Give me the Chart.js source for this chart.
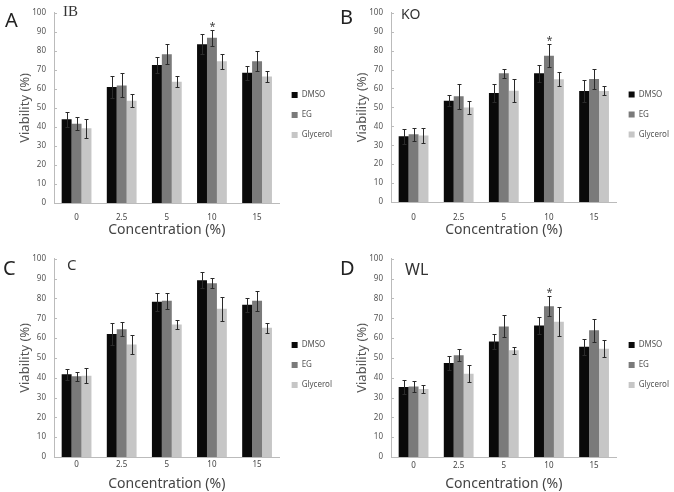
<!DOCTYPE html>
<html>
<head>
<meta charset="utf-8">
<script src="https://cdn.jsdelivr.net/npm/chart.js@4.4.1/dist/chart.umd.min.js"></script>
<style>
  body { margin: 0; background: #fff; overflow: hidden; }
  #wrap { position: relative; width: 674px; height: 492px; }
  .panel { position: absolute; width: 337px; height: 246px; }
  .panel canvas { position: absolute; left: 0; top: 0; }
  .letter { position: absolute; font-family: "Noto Sans", sans-serif; font-size: 20px; color: #222; line-height: 1; }
  .sub { position: absolute; font-family: "Noto Sans", sans-serif; font-size: 15px; color: #333; line-height: 1; }
</style>
</head>
<body>
<div id="wrap"></div>
<script>
// data
const categories = ['0', '2.5', '5', '10', '15'];
const seriesNames = ['DMSO', 'EG', 'Glycerol'];
const seriesColors = ['#0a0a0a', '#7a7a7a', '#c6c6c6'];

const ibDmso = [44, 61, 72.5, 83.5, 68.5];
const ibDmsoErr = [4, 5.8, 4, 5.3, 3.6];
const ibEg = [41.7, 61.8, 78.2, 86.9, 74.5];
const ibEgErr = [3.5, 6.3, 5.3, 4.1, 5.2];
const ibGly = [39.3, 53.8, 63.8, 74.5, 66.5];
const ibGlyErr = [5, 3.5, 2.9, 4, 3.1];
const ibStars = [3];

const koDmso = [34.8, 53.5, 57.6, 68, 58.7];
const koDmsoErr = [4, 2.8, 4.7, 4.5, 6];
const koEg = [35.8, 55.9, 68, 77.3, 65];
const koEgErr = [3.3, 6.7, 2.4, 6.1, 5.2];
const koGly = [35.1, 50, 58.8, 64.9, 58.7];
const koGlyErr = [3.8, 3.5, 6.1, 3.6, 2.4];
const koStars = [3];

const cDmso = [41.7, 62, 78.3, 89.2, 76.8];
const cDmsoErr = [2.8, 5.6, 4.4, 3.9, 3.5];
const cEg = [40.7, 64.5, 78.8, 87.7, 78.8];
const cEgErr = [2.2, 3.5, 4, 2.4, 5.2];
const cGly = [41, 56.8, 66.9, 74.8, 65.2];
const cGlyErr = [3.7, 4.9, 2.3, 6, 2.5];
const cStars = [];

const wlDmso = [35.3, 47.4, 58.3, 66.4, 55.6];
const wlDmsoErr = [3.4, 3.4, 3.9, 4.2, 4.1];
const wlEg = [35.6, 51.4, 65.9, 76, 63.9];
const wlEgErr = [2.7, 3, 5.5, 5, 5.8];
const wlGly = [34.3, 42, 53.8, 68.2, 54.6];
const wlGlyErr = [2, 4.4, 1.8, 7.4, 4.2];
const wlStars = [3];

// panels: layout only
const panels = [
  { letter: 'A', sub: 'IB', serif: true, x: 0, y: 0, top: 7, bottom: 203, padB: 8, labelPad: 10,
    lx: 5, ly: 10, sx: 63, sy: 4, subSize: 15,
    values: [ibDmso, ibEg, ibGly], errors: [ibDmsoErr, ibEgErr, ibGlyErr], stars: ibStars },
  { letter: 'B', sub: 'KO', x: 337, y: 0, top: 9, bottom: 202, padB: 8, labelPad: 11,
    lx: 3, ly: 7, sx: 64, sy: 7, subSize: 14,
    values: [koDmso, koEg, koGly], errors: [koDmsoErr, koEgErr, koGlyErr], stars: koStars },
  { letter: 'C', sub: 'C', x: 0, y: 246, top: 12, bottom: 211, padB: 0, labelPad: 3,
    lx: 3, ly: 12, sx: 67, sy: 11, subSize: 15,
    values: [cDmso, cEg, cGly], errors: [cDmsoErr, cEgErr, cGlyErr], stars: cStars },
  { letter: 'D', sub: 'WL', x: 337, y: 246, top: 12, bottom: 211, padB: 0, labelPad: 4,
    lx: 3, ly: 12, sx: 68, sy: 15, subSize: 16,
    values: [wlDmso, wlEg, wlGly], errors: [wlDmsoErr, wlEgErr, wlGlyErr], stars: wlStars }
];

// error bars + asterisk
const errorBars = {
  id: 'errorBars',
  afterDatasetsDraw(chart) {
    const ctx = chart.ctx;
    const ys = chart.scales.y;
    ctx.save();
    ctx.strokeStyle = '#2a2a2a';
    ctx.lineWidth = 1;
    chart.data.datasets.forEach((ds, i) => {
      chart.getDatasetMeta(i).data.forEach((bar, j) => {
        const v = ds.data[j], e = ds.errors[j];
        const top = Math.round(ys.getPixelForValue(v + e)) + 0.5;
        const bot = Math.round(ys.getPixelForValue(v - e)) + 0.5;
        const x = Math.round(bar.x) + 0.5;
        ctx.beginPath();
        ctx.moveTo(x, top); ctx.lineTo(x, bot);
        ctx.moveTo(x - 2, top); ctx.lineTo(x + 2, top);
        ctx.moveTo(x - 2, bot); ctx.lineTo(x + 2, bot);
        ctx.stroke();
        if (ds.stars && ds.stars.indexOf(j) > -1) {
          ctx.fillStyle = '#444';
          ctx.font = '11px "Noto Sans"';
          ctx.textAlign = 'center';
          ctx.fillText('*', x, top - 1);
        }
      });
    });
    ctx.restore();
  }
};

// small inward tick marks on y axis
const yInTicks = {
  id: 'yInTicks',
  afterDraw(chart) {
    const ctx = chart.ctx, ys = chart.scales.y, left = chart.chartArea.left;
    ctx.save();
    ctx.strokeStyle = '#bbb';
    ys.ticks.forEach(t => {
      const py = Math.round(ys.getPixelForValue(t.value)) + 0.5;
      ctx.beginPath();
      ctx.moveTo(left, py); ctx.lineTo(left + 3, py);
      ctx.stroke();
    });
    ctx.restore();
  }
};

const wrap = document.getElementById('wrap');

panels.forEach(p => {
  const div = document.createElement('div');
  div.className = 'panel';
  div.style.left = p.x + 'px';
  div.style.top = p.y + 'px';
  wrap.appendChild(div);

  const canvas = document.createElement('canvas');
  canvas.width = 342;
  canvas.height = 246;
  div.appendChild(canvas);

  const letter = document.createElement('div');
  letter.className = 'letter';
  letter.textContent = p.letter;
  letter.style.left = p.lx + 'px';
  letter.style.top = p.ly + 'px';
  div.appendChild(letter);

  const sub = document.createElement('div');
  sub.className = 'sub';
  sub.textContent = p.sub;
  sub.style.left = p.sx + 'px';
  sub.style.top = p.sy + 'px';
  sub.style.fontSize = p.subSize + 'px';
  if (p.serif) sub.style.fontFamily = '"Liberation Serif", "DejaVu Serif", serif';
  div.appendChild(sub);

  const datasets = seriesNames.map((name, i) => ({
    label: name,
    data: p.values[i],
    errors: p.errors[i],
    stars: i === 1 ? p.stars : null,
    backgroundColor: seriesColors[i],
    borderWidth: 0,
    categoryPercentage: 0.66,
    barPercentage: 1.0
  }));

  new Chart(canvas, {
    type: 'bar',
    data: { labels: categories, datasets: datasets },
    options: {
      responsive: false,
      animation: false,
      devicePixelRatio: 1,
      layout: { padding: { top: p.top, bottom: p.padB, left: 0, right: 0 } },
      plugins: {
        tooltip: { enabled: false },
        legend: {
          position: 'right',
          fullSize: false,
          // blank title only pushes the items down a little
          title: { display: true, text: ' ', padding: 1, font: { size: 10 } },
          labels: {
            boxWidth: 6,
            boxHeight: 6,
            padding: 12,
            color: '#555',
            font: { family: 'Noto Sans', size: 8 }
          }
        }
      },
      scales: {
        x: {
          grid: { display: false, drawTicks: false },
          border: { color: '#bbb' },
          ticks: { color: '#444', padding: p.labelPad, font: { family: 'Noto Sans', size: 8 } },
          title: {
            display: true,
            text: 'Concentration (%)',
            color: '#444',
            padding: 0,
            font: { family: 'Noto Sans', size: 14 }
          },
          afterFit: axis => { axis.height = 246 - p.padB - p.bottom; }
        },
        y: {
          min: 0,
          max: 100,
          grid: { display: false, drawTicks: false },
          border: { color: '#bbb' },
          ticks: { stepSize: 10, color: '#555', padding: 8, font: { family: 'Noto Sans', size: 8 } },
          title: {
            display: true,
            text: 'Viability (%)',
            color: '#555',
            padding: { top: 17, bottom: 0 },
            font: { family: 'Noto Sans', size: 13 }
          },
          afterFit: axis => { axis.width = 54; }
        }
      }
    },
    plugins: [errorBars, yInTicks]
  });
});
</script>
</body>
</html>
